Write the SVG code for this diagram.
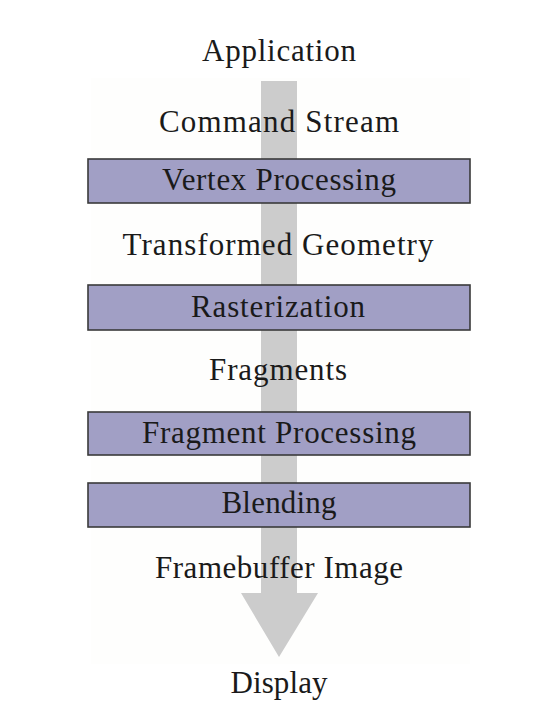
<svg xmlns="http://www.w3.org/2000/svg" width="558" height="728" viewBox="0 0 558 728">
<style>
text{font-family:"Liberation Serif","Times New Roman",serif;font-size:31px;fill:#1a1a1a;text-anchor:middle}
.box{fill:#a19fc5;stroke:#3a3a3a;stroke-width:1.6}
</style>
<rect width="558" height="728" fill="#ffffff"/>
<rect x="91" y="78" width="379" height="586" fill="#fefefd"/>
<g id="connectors">
<polygon points="261,81 297,81 297,593 318,593 279,657 241,593 261,593" fill="#cccccc"/>
</g>
<g id="application"><text x="279" y="61" textLength="154" lengthAdjust="spacing">Application</text></g>
<g id="command-stream"><text x="279" y="132" textLength="240" lengthAdjust="spacing">Command Stream</text></g>
<g id="vertex-processing"><rect class="box" x="88" y="159" width="382" height="44"/><text x="279" y="190" textLength="234" lengthAdjust="spacing">Vertex Processing</text></g>
<g id="transformed-geometry"><text x="278" y="255" textLength="311" lengthAdjust="spacing">Transformed Geometry</text></g>
<g id="rasterization"><rect class="box" x="88" y="285" width="382" height="45"/><text x="278" y="317" textLength="174" lengthAdjust="spacing">Rasterization</text></g>
<g id="fragments"><text x="278" y="380" textLength="138" lengthAdjust="spacing">Fragments</text></g>
<g id="fragment-processing"><rect class="box" x="88" y="412" width="382" height="43"/><text x="279" y="443" textLength="274" lengthAdjust="spacing">Fragment Processing</text></g>
<g id="blending"><rect class="box" x="88" y="483" width="382" height="44"/><text x="279" y="513" textLength="115" lengthAdjust="spacing">Blending</text></g>
<g id="framebuffer-image"><text x="279" y="578" textLength="248" lengthAdjust="spacing">Framebuffer Image</text></g>
<g id="display"><text x="279" y="693" textLength="97" lengthAdjust="spacing">Display</text></g>
</svg>
